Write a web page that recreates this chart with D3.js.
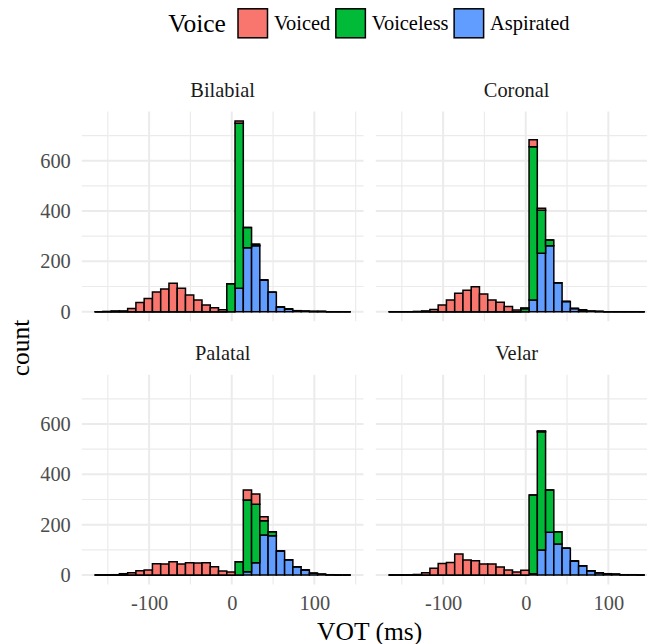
<!DOCTYPE html>
<html>
<head>
<meta charset="utf-8">
<script src="https://cdn.jsdelivr.net/npm/d3@7"></script>
<style>
  body { margin: 0; background: #fff; }
  svg { display: block; }
  text { font-family: "Liberation Serif", "Times New Roman", serif; }
</style>
</head>
<body>
<div id="chart"></div>
<script>
// facets and fill groups
var places = ["Bilabial", "Coronal", "Palatal", "Velar"];
var voices = ["Voiced", "Voiceless", "Aspirated"];
var voiceColors = ["#F8766D", "#00BA38", "#619CFF"];

// left edge of each 10 ms bin
var binLefts = [-166, -156, -146, -136, -126, -116, -106, -96, -86, -76, -66, -56, -46, -36, -26, -16,
                -6, 4, 14, 24, 34, 44, 54, 64, 74, 84, 94, 104, 114, 124, 134];
var binWidth = 10;

var xBreaks = [-100, 0, 100];
var xMinor = [-150, -50, 50, 150];
var yBreaks = [0, 200, 400, 600];
var yMinor = [100, 300, 500, 700];

// counts per bin
var bilabialVoiced    = [0,1,3,3,13,36,52,78,90,113,93,66,46,27,16,8,0,9,0,0,0,0,0,0,0,0,0,0,0,0,0];
var bilabialVoiceless = [0,0,0,0,0,0,0,0,0,0,0,0,0,0,0,0,111,656,81,6,0,0,0,0,0,0,0,0,0,0,0];
var bilabialAspirated = [0,0,0,0,0,0,0,0,0,0,0,0,0,0,0,0,0,93,254,262,126,77,19,11,4,2,1,1,0,0,0];

var coronalVoiced     = [0,0,0,1,3,9,27,46,73,85,99,70,46,37,21,7,3,28,8,0,0,0,0,0,0,0,0,0,0,0,0];
var coronalVoiceless  = [0,0,0,0,0,0,0,0,0,0,0,0,0,0,0,0,12,610,171,23,0,0,0,0,0,0,0,0,0,0,0];
var coronalAspirated  = [0,0,0,0,0,0,0,0,0,0,0,0,0,0,0,0,0,46,232,262,115,40,13,7,2,1,0,0,0,0,0];

var palatalVoiced     = [0,0,1,5,9,17,20,45,44,53,44,49,48,49,33,16,12,0,40,41,15,0,0,0,0,0,0,0,0,0,0];
var palatalVoiceless  = [0,0,0,0,0,0,0,0,0,0,0,0,0,0,0,0,0,53,285,232,57,16,0,0,0,0,0,0,0,0,0];
var palatalAspirated  = [0,0,0,0,0,0,0,0,0,0,0,0,0,0,0,0,0,0,13,49,159,156,95,61,33,20,7,3,1,0,0];

var velarVoiced       = [0,0,0,2,9,27,46,50,83,60,57,44,44,32,20,12,19,0,4,0,0,0,0,0,0,0,0,0,0,0,0];
var velarVoiceless    = [0,0,0,0,0,0,0,0,0,0,0,0,0,0,0,0,0,313,470,168,49,0,0,0,0,0,0,0,0,0,0];
var velarAspirated    = [0,0,0,0,0,0,0,0,0,0,0,0,0,0,0,0,0,5,99,170,123,106,56,37,17,9,5,3,1,1,0];

var placeCounts = {
  "Bilabial": [bilabialVoiced, bilabialVoiceless, bilabialAspirated],
  "Coronal":  [coronalVoiced, coronalVoiceless, coronalAspirated],
  "Palatal":  [palatalVoiced, palatalVoiceless, palatalAspirated],
  "Velar":    [velarVoiced, velarVoiceless, velarAspirated]
};

var width = 647, height = 644;
var panelW = 281.7, panelH = 209.7;
var panelX = [81.8, 375.8];
var panelY = [111.5, 374.8];

var svg = d3.select("#chart").append("svg")
  .attr("width", width)
  .attr("height", height);

// build one row per bin for d3.stack
var tables = places.map(function(p) {
  return binLefts.map(function(b, i) {
    var row = { left: b };
    voices.forEach(function(v, j) { row[v] = placeCounts[p][j][i]; });
    return row;
  });
});

// first level ends up on top, like ggplot
var stack = d3.stack().keys(voices.slice().reverse());
var stacked = tables.map(function(t) { return stack(t); });

var maxCount = d3.max(stacked, function(s) { return d3.max(s[s.length - 1], function(d) { return d[1]; }); });
var xLo = binLefts[0], xHi = binLefts[binLefts.length - 1] + binWidth;
var xPad = (xHi - xLo) * 0.05;

var x = d3.scaleLinear().domain([xLo - xPad, xHi + xPad]).range([0, panelW]);
var y = d3.scaleLinear().domain([-maxCount * 0.05, maxCount * 1.05]).range([panelH, 0]);

var color = d3.scaleOrdinal().domain(voices).range(voiceColors);

places.forEach(function(p, pi) {
  var col = pi % 2, row = Math.floor(pi / 2);
  var g = svg.append("g")
    .attr("transform", "translate(" + panelX[col] + "," + panelY[row] + ")");

  // grid
  g.selectAll(".vminor").data(xMinor.filter(function(v) { return v >= x.domain()[0] && v <= x.domain()[1]; }))
    .enter().append("line")
    .attr("x1", function(d) { return x(d); }).attr("x2", function(d) { return x(d); })
    .attr("y1", 0).attr("y2", panelH)
    .attr("stroke", "#ebebeb").attr("stroke-width", 1.2);
  g.selectAll(".hminor").data(yMinor)
    .enter().append("line")
    .attr("x1", 0).attr("x2", panelW)
    .attr("y1", function(d) { return y(d); }).attr("y2", function(d) { return y(d); })
    .attr("stroke", "#ebebeb").attr("stroke-width", 1.2);
  g.selectAll(".vmajor").data(xBreaks)
    .enter().append("line")
    .attr("x1", function(d) { return x(d); }).attr("x2", function(d) { return x(d); })
    .attr("y1", 0).attr("y2", panelH)
    .attr("stroke", "#ebebeb").attr("stroke-width", 2);
  g.selectAll(".hmajor").data(yBreaks)
    .enter().append("line")
    .attr("x1", 0).attr("x2", panelW)
    .attr("y1", function(d) { return y(d); }).attr("y2", function(d) { return y(d); })
    .attr("stroke", "#ebebeb").attr("stroke-width", 2);

  // bars, as paths so empty bins still show their outline
  stacked[pi].forEach(function(layer) {
    g.append("g").selectAll("path")
      .data(layer)
      .enter().append("path")
      .attr("d", function(d) {
        var x0 = x(d.data.left), x1 = x(d.data.left + binWidth);
        var y0 = y(d[0]), y1 = y(d[1]);
        return "M" + x0 + "," + y0 + "H" + x1 + "V" + y1 + "H" + x0 + "Z";
      })
      .attr("fill", color(layer.key))
      .attr("stroke", "#000")
      .attr("stroke-width", 1.5)
      .attr("stroke-linejoin", "miter");
  });

  // strip title
  svg.append("text")
    .attr("x", panelX[col] + panelW / 2)
    .attr("y", panelY[row] - 14.5)
    .attr("text-anchor", "middle")
    .attr("font-size", 20.4)
    .attr("fill", "#1a1a1a")
    .text(p);

  if (col === 0) {
    var ya = g.append("g")
      .call(d3.axisLeft(y).tickValues(yBreaks).tickSize(0).tickPadding(11).tickFormat(function(d) { return String(d); }));
    ya.select(".domain").remove();
    ya.selectAll("text").attr("font-size", 20.4).attr("fill", "#4d4d4d").attr("font-family", null);
  }
  if (row === 1) {
    var xa = g.append("g")
      .attr("transform", "translate(0," + panelH + ")")
      .call(d3.axisBottom(x).tickValues(xBreaks).tickSize(0).tickPadding(11).tickFormat(function(d) { return String(d); }));
    xa.select(".domain").remove();
    xa.selectAll("text").attr("font-size", 20.4).attr("fill", "#4d4d4d").attr("font-family", null);
  }
});

// axis titles
svg.append("text")
  .attr("x", (panelX[0] + panelX[1] + panelW) / 2)
  .attr("y", 639.5)
  .attr("text-anchor", "middle")
  .attr("font-size", 25.5)
  .text("VOT (ms)");

svg.append("text")
  .attr("transform", "translate(28.5," + (panelY[0] + panelY[1] + panelH) / 2 + ") rotate(-90)")
  .attr("text-anchor", "middle")
  .attr("font-size", 25.5)
  .text("count");

// legend on top
var legend = svg.append("g");
legend.append("text")
  .attr("x", 168.3)
  .attr("y", 31.7)
  .attr("font-size", 25.5)
  .text("Voice");

var cursor = 238;
voices.forEach(function(v) {
  legend.append("rect")
    .attr("x", cursor).attr("y", 8.8)
    .attr("width", 29.5).attr("height", 29)
    .attr("fill", color(v))
    .attr("stroke", "#000")
    .attr("stroke-width", 1.5);
  var t = legend.append("text")
    .attr("x", cursor + 36)
    .attr("y", 30)
    .attr("font-size", 20.4)
    .text(v);
  cursor = cursor + 36 + t.node().getComputedTextLength() + 5.6;
});
</script>
</body>
</html>
